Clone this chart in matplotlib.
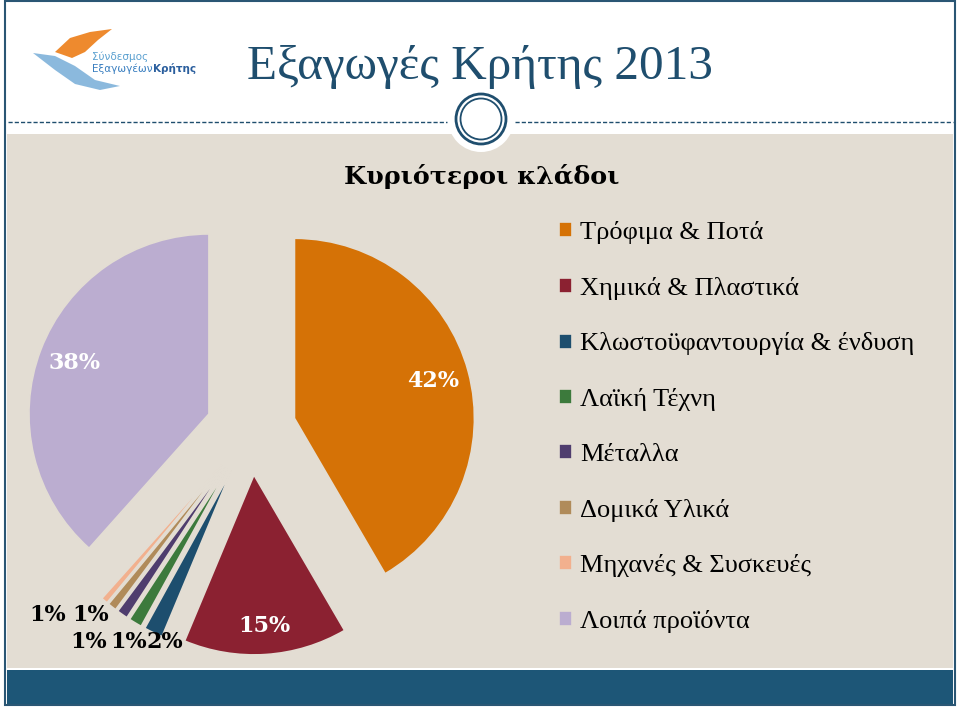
import matplotlib.pyplot as plt
from matplotlib.patches import Rectangle, Circle, Polygon
import numpy as np

# Data
categories = ['Τρόφιμα & Ποτά', 'Χημικά & Πλαστικά', 'Κλωστοϋφαντουργία & ένδυση',
              'Λαϊκή Τέχνη', 'Μέταλλα', 'Δομικά Υλικά', 'Μηχανές & Συσκευές',
              'Λοιπά προϊόντα']
shares = [41.6, 14.7, 1.7, 1.2, 1.0, 0.8, 0.6, 38.4]
pct_labels = ['42%', '15%', '2%', '1%', '1%', '1%', '1%', '38%']
colors = ['#D57206', '#8B2131', '#1D4E6E', '#3C7A3C', '#4F3D6E', '#B08B5A',
          '#F2B08E', '#BBADD0']

title = 'Εξαγωγές Κρήτης 2013'
subtitle = 'Κυριότεροι κλάδοι'

W, H = 960, 708
fig = plt.figure(figsize=(W / 100, H / 100), dpi=100)
fig.patch.set_facecolor('white')

# background axes in pixel coordinates
bg = fig.add_axes([0, 0, 1, 1])
bg.set_xlim(0, W)
bg.set_ylim(H, 0)
bg.axis('off')

navy = '#1F4E6E'
beige = '#E3DDD3'

bg.add_patch(Rectangle((7, 134), 946, 534, facecolor=beige, edgecolor='none'))
bg.add_patch(Rectangle((7, 670), 946, 34, facecolor='#1D5677', edgecolor='none'))
bg.add_patch(Rectangle((5, 1), 950, 704, facecolor='none', edgecolor='#2A5674', lw=1.5))

# dashed rule with ring ornament
bg.plot([8, 447], [122, 122], color=navy, lw=1, ls=(0, (3, 1.5)))
bg.plot([515, 953], [122, 122], color=navy, lw=1, ls=(0, (3, 1.5)))
bg.add_patch(Circle((481, 119), 33, facecolor='white', edgecolor='none'))
bg.add_patch(Circle((481, 119), 25, facecolor='none', edgecolor=navy, lw=2))
bg.add_patch(Circle((481, 119), 20.5, facecolor='none', edgecolor=navy, lw=1.3))

# logo (rough)
bg.add_patch(Polygon([[55, 52], [70, 38], [90, 32], [112, 29], [98, 40], [85, 52], [72, 58]],
                     facecolor='#EE8A2E', edgecolor='none'))
bg.add_patch(Polygon([[33, 53], [55, 56], [75, 66], [95, 80], [120, 86], [100, 90],
                      [75, 84], [55, 70]], facecolor='#7FB2DA', edgecolor='none', alpha=0.9))
bg.text(92, 60, 'Σύνδεσμος', fontsize=7.5, color='#5AA0D0', ha='left', va='baseline',
        family='DejaVu Sans')
t1 = bg.text(92, 72, 'Εξαγωγέων', fontsize=7.5, color='#3A7FC0', ha='left', va='baseline',
             family='DejaVu Sans')
fig.canvas.draw()
w1 = t1.get_window_extent().width
bg.text(92 + w1, 72, 'Κρήτης', fontsize=7.5, color='#2B5F9E', ha='left', va='baseline',
        family='DejaVu Sans', fontweight='bold')

bg.text(480, 79, title, fontsize=35.5, color=navy, ha='center', va='baseline',
        family='Liberation Serif')
bg.text(482, 184, subtitle, fontsize=18.3, color='black', ha='center', va='baseline',
        family='DejaVu Serif', fontweight='bold')

# pie axes: center at (251, 430) px, radius 180 px
half = 230
ax = fig.add_axes([(251 - half) / W, (H - 430 - half) / H, 2 * half / W, 2 * half / H])
wedges, _ = ax.pie(shares, colors=colors, startangle=90, counterclock=False,
                   explode=[0.25] * len(shares), radius=1,
                   wedgeprops=dict(edgecolor=beige, linewidth=1.2))
lim = half / 180
ax.set_xlim(-lim, lim)
ax.set_ylim(-lim, lim)
ax.axis('off')

theta = 90 - (np.cumsum(shares) - np.array(shares) / 2) / 100 * 360
big = {0: 0.8, 1: 0.84, 7: 0.8}
for i, lab in enumerate(pct_labels):
    t = np.deg2rad(theta[i])
    if i in big:
        r = 0.25 + big[i]
        ax.text(r * np.cos(t), r * np.sin(t), lab, color='white', fontsize=16,
                fontweight='bold', family='DejaVu Serif', ha='center', va='center')

# small slice labels arranged in two rows, as in the original
small_pos = {2: (-0.48, -1.18), 3: (-0.68, -1.18), 4: (-0.90, -1.18),
             5: (-0.89, -1.03), 6: (-1.13, -1.03)}
for i, (x, y) in small_pos.items():
    ax.text(x, y, pct_labels[i], color='black', fontsize=16, fontweight='bold',
            family='DejaVu Serif', ha='center', va='center')

leg = fig.legend(wedges, categories, loc='upper left', bbox_to_anchor=(559 / W, 1 - 221 / H),
                 frameon=False, prop={'family': 'Liberation Serif', 'size': 19},
                 handlelength=0.5, handleheight=0.5, handletextpad=0.3, labelspacing=1.24,
                 borderpad=0, borderaxespad=0)

fig.savefig('out.png', dpi=100)
